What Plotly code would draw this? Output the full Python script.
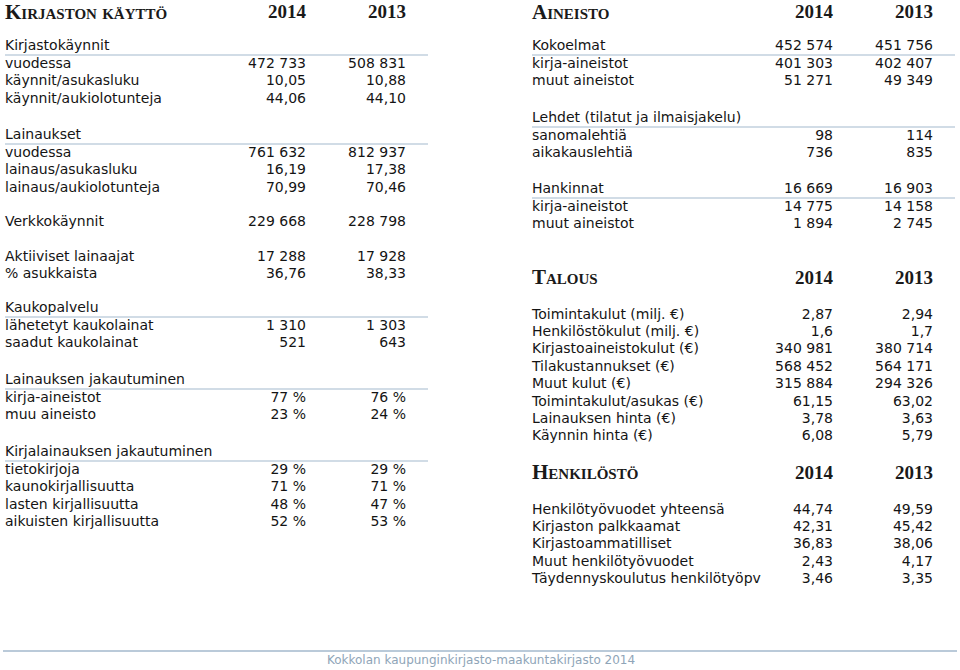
import plotly.graph_objects as go

# --- data -------------------------------------------------------------
years = ["2014", "2013"]
headers = ["Kirjaston käyttö", "Aineisto", "Talous", "Henkilöstö"]

kaynnit_labels = ["vuodessa", "käynnit/asukasluku", "käynnit/aukiolotunteja"]
kaynnit_2014 = ["472 733", "10,05", "44,06"]
kaynnit_2013 = ["508 831", "10,88", "44,10"]

lainaukset_labels = ["vuodessa", "lainaus/asukasluku", "lainaus/aukiolotunteja"]
lainaukset_2014 = ["761 632", "16,19", "70,99"]
lainaukset_2013 = ["812 937", "17,38", "70,46"]

verkko_labels = ["Verkkokäynnit"]
verkko_2014 = ["229 668"]
verkko_2013 = ["228 798"]

aktiiviset_labels = ["Aktiiviset lainaajat", "% asukkaista"]
aktiiviset_2014 = ["17 288", "36,76"]
aktiiviset_2013 = ["17 928", "38,33"]

kauko_labels = ["lähetetyt kaukolainat", "saadut kaukolainat"]
kauko_2014 = ["1 310", "521"]
kauko_2013 = ["1 303", "643"]

jakauma_labels = ["kirja-aineistot", "muu aineisto"]
jakauma_2014 = ["77 %", "23 %"]
jakauma_2013 = ["76 %", "24 %"]

kirjat_labels = ["tietokirjoja", "kaunokirjallisuutta", "lasten kirjallisuutta",
                 "aikuisten kirjallisuutta"]
kirjat_2014 = ["29 %", "71 %", "48 %", "52 %"]
kirjat_2013 = ["29 %", "71 %", "47 %", "53 %"]

kokoelmat_labels = ["kirja-aineistot", "muut aineistot"]
kokoelmat_2014 = ["401 303", "51 271"]
kokoelmat_2013 = ["402 407", "49 349"]
kokoelmat_total = ["452 574", "451 756"]

lehdet_labels = ["sanomalehtiä", "aikakauslehtiä"]
lehdet_2014 = ["98", "736"]
lehdet_2013 = ["114", "835"]

hankinnat_labels = ["kirja-aineistot", "muut aineistot"]
hankinnat_2014 = ["14 775", "1 894"]
hankinnat_2013 = ["14 158", "2 745"]
hankinnat_total = ["16 669", "16 903"]

talous_labels = ["Toimintakulut (milj. €)", "Henkilöstökulut (milj. €)",
                 "Kirjastoaineistokulut (€)", "Tilakustannukset (€)", "Muut kulut (€)",
                 "Toimintakulut/asukas (€)", "Lainauksen hinta (€)", "Käynnin hinta (€)"]
talous_2014 = ["2,87", "1,6", "340 981", "568 452", "315 884", "61,15", "3,78", "6,08"]
talous_2013 = ["2,94", "1,7", "380 714", "564 171", "294 326", "63,02", "3,63", "5,79"]

henkilo_labels = ["Henkilötyövuodet yhteensä", "Kirjaston palkkaamat",
                  "Kirjastoammatilliset", "Muut henkilötyövuodet",
                  "Täydennyskoulutus henkilötyöpv"]
henkilo_2014 = ["44,74", "42,31", "36,83", "2,43", "3,46"]
henkilo_2013 = ["49,59", "45,42", "38,06", "4,17", "3,35"]

footer = "Kokkolan kaupunginkirjasto-maakuntakirjasto 2014"

# --- layout helpers ---------------------------------------------------
STEP = 17.6
LINE_COLOR = "#a3b9cd"
cols = {
    "left": dict(x0=5, x1=428, c1=306, c2=406),
    "right": dict(x0=532, x1=955, c1=833, c2=933),
}

lab_x, lab_y, lab_t = [], [], []
num_x, num_y, num_t = [], [], []
lines = []


def add_rows(col, y, labels, v1, v2, step=STEP):
    c = cols[col]
    for i, lab in enumerate(labels):
        yy = y + i * step
        lab_x.append(c["x0"]); lab_y.append(yy); lab_t.append(lab)
        num_x.extend([c["c1"], c["c2"]]); num_y.extend([yy, yy])
        num_t.extend([v1[i], v2[i]])


def add_block(col, y, title, labels, v1, v2, total=None):
    c = cols[col]
    lab_x.append(c["x0"]); lab_y.append(y); lab_t.append(title)
    if total:
        num_x.extend([c["c1"], c["c2"]]); num_y.extend([y, y]); num_t.extend(total)
    lines.append((c["x0"], c["x1"], y + 9))
    add_rows(col, y + 18, labels, v1, v2)


add_block("left", 46, "Kirjastokäynnit", kaynnit_labels, kaynnit_2014, kaynnit_2013)
add_block("left", 135, "Lainaukset", lainaukset_labels, lainaukset_2014, lainaukset_2013)
add_rows("left", 222, verkko_labels, verkko_2014, verkko_2013)
add_rows("left", 257, aktiiviset_labels, aktiiviset_2014, aktiiviset_2013)
add_block("left", 308, "Kaukopalvelu", kauko_labels, kauko_2014, kauko_2013)
add_block("left", 380, "Lainauksen jakautuminen", jakauma_labels, jakauma_2014, jakauma_2013)
add_block("left", 452, "Kirjalainauksen jakautuminen", kirjat_labels, kirjat_2014, kirjat_2013)

add_block("right", 46, "Kokoelmat", kokoelmat_labels, kokoelmat_2014, kokoelmat_2013,
          total=kokoelmat_total)
add_block("right", 118, "Lehdet (tilatut ja ilmaisjakelu)", lehdet_labels,
          lehdet_2014, lehdet_2013)
add_block("right", 189, "Hankinnat", hankinnat_labels, hankinnat_2014, hankinnat_2013,
          total=hankinnat_total)
add_rows("right", 315, talous_labels, talous_2014, talous_2013, step=17.4)
add_rows("right", 510, henkilo_labels, henkilo_2014, henkilo_2013, step=17.4)

# headers
head_pos = [("left", 13.5), ("right", 13.5), ("right", 279), ("right", 474)]
hx = [cols[c]["x0"] for c, _ in head_pos]
hy = [y for _, y in head_pos]
yx, yy, yt = [], [], []
for c, y in head_pos:
    yx.extend([cols[c]["c1"], cols[c]["c2"]]); yy.extend([y, y]); yt.extend(years)

body_font = dict(family="DejaVu Sans", size=14, color="#141414")
head_font = dict(family="Liberation Serif", size=21, color="#1a1a1a", weight="bold")

fig = go.Figure()
for x0, x1, y in lines:
    fig.add_shape(type="line", x0=x0, x1=x1, y0=y, y1=y,
                  line=dict(color=LINE_COLOR, width=1.2))
fig.add_shape(type="line", x0=3, x1=957, y0=651, y1=651,
              line=dict(color=LINE_COLOR, width=1.5))

fig.add_trace(go.Scatter(x=lab_x, y=lab_y, text=lab_t, mode="text",
                         textposition="middle right", textfont=body_font))
fig.add_trace(go.Scatter(x=num_x, y=num_y, text=num_t, mode="text",
                         textposition="middle left", textfont=body_font))
fig.add_trace(go.Scatter(x=hx, y=hy, text=headers, mode="text",
                         textposition="middle right",
                         textfont=dict(head_font, variant="small-caps")))
fig.add_trace(go.Scatter(x=yx, y=yy, text=yt, mode="text",
                         textposition="middle left",
                         textfont=dict(head_font, size=19)))
fig.add_trace(go.Scatter(x=[481], y=[661], text=[footer], mode="text",
                         textposition="middle center",
                         textfont=dict(family="DejaVu Sans", size=12, color="#8fa5b8")))

fig.update_traces(hoverinfo="skip", cliponaxis=False)
fig.update_layout(
    width=960, height=670,
    margin=dict(l=0, r=0, t=0, b=0),
    plot_bgcolor="white", paper_bgcolor="white",
    showlegend=False,
    xaxis=dict(range=[0, 960], visible=False, fixedrange=True),
    yaxis=dict(range=[670, 0], visible=False, fixedrange=True),
)

fig.write_html("out.html", config={"displayModeBar": False},
               post_script="document.body.style.margin='0';")
